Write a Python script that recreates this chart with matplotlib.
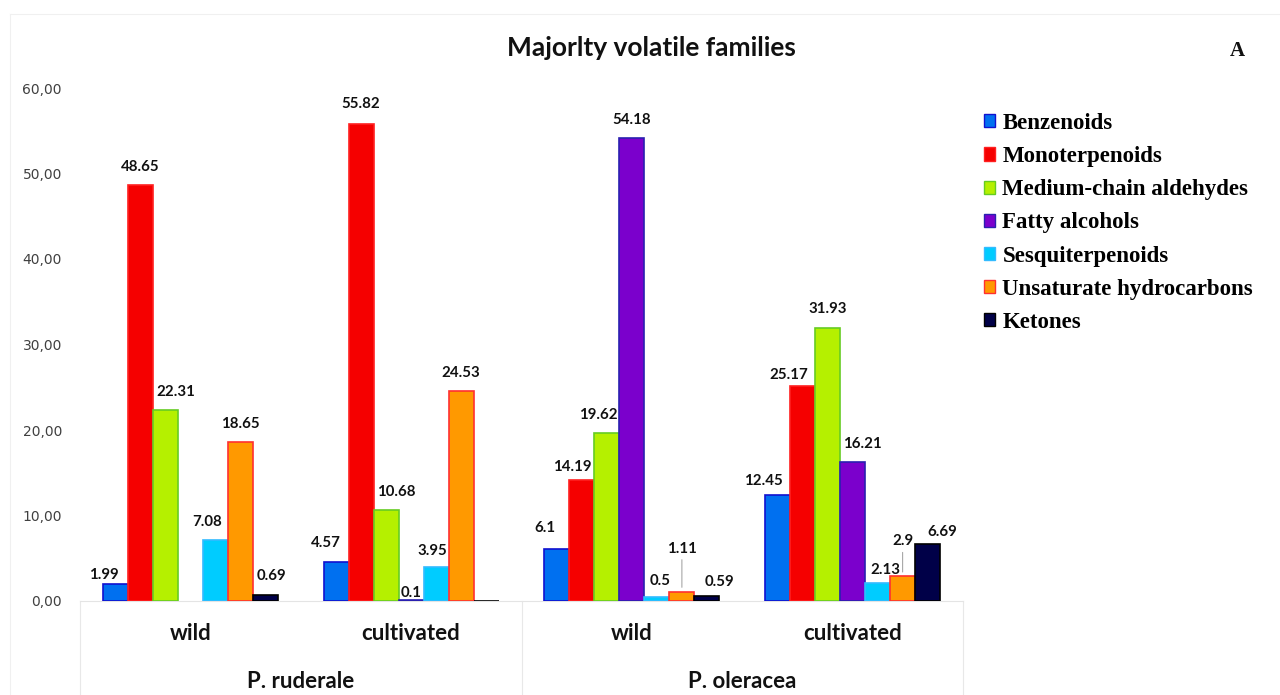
import numpy as np
import matplotlib
matplotlib.use("Agg")
import matplotlib.pyplot as plt
from matplotlib.patches import Patch
from matplotlib.lines import Line2D
from matplotlib.transforms import blended_transform_factory

# ---- data -------------------------------------------------------------
species = ["P. ruderale", "P. oleracea"]
conditions = ["wild", "cultivated", "wild", "cultivated"]
families = ["Benzenoids", "Monoterpenoids", "Medium-chain aldehydes",
            "Fatty alcohols", "Sesquiterpenoids", "Unsaturate hydrocarbons",
            "Ketones"]

benzenoids = [1.99, 4.57, 6.1, 12.45]
monoterpenoids = [48.65, 55.82, 14.19, 25.17]
aldehydes = [22.31, 10.68, 19.62, 31.93]
fatty_alcohols = [np.nan, 0.1, 54.18, 16.21]
sesquiterpenoids = [7.08, 3.95, 0.5, 2.13]
hydrocarbons = [18.65, 24.53, 1.11, 2.9]
ketones = [0.69, 0.0, 0.59, 6.69]

series = [benzenoids, monoterpenoids, aldehydes, fatty_alcohols,
          sesquiterpenoids, hydrocarbons, ketones]

# ---- styles -----------------------------------------------------------
fills = ["#0070f0", "#f50000", "#b5f000", "#7b00cc", "#00ccff", "#ff9900", "#000048"]
edges = ["#1010d0", "#ff2020", "#66cc22", "#2a20b0", "#33bbff", "#ff3030", "#000000"]

# value-label nudges in pixels (dx, dy above bar top); default (0, 18)
label_nudge = {
    (0, 0): (-11, 9), (0, 2): (10, 18), (0, 4): (-8, 18), (0, 6): (6, 19),
    (1, 0): (-10, 19), (1, 1): (0, 20), (1, 2): (10, 18), (1, 3): (0, 7),
    (1, 4): (-4, 16),
    (2, 0): (-12, 21), (2, 1): (-10, 13), (2, 2): (-9, 18), (2, 4): (3, 16),
    (2, 5): (0, 43), (2, 6): (13, 14),
    (3, 0): (-14, 14), (3, 1): (-14, 11), (3, 2): (0, 19), (3, 3): (10, 18),
    (3, 4): (8, 13), (3, 5): (0, 35), (3, 6): (15, 12),
}
leader_labels = {(2, 5), (3, 5)}

W, H = 1280, 695
fig = plt.figure(figsize=(W / 100, H / 100), dpi=100)
fig.patch.set_facecolor("white")

ax_left, ax_right, ax_top, ax_bottom = 80, 963, 88, 601
ax = fig.add_axes([ax_left / W, 1 - ax_bottom / H,
                   (ax_right - ax_left) / W, (ax_bottom - ax_top) / H])

x = np.arange(len(conditions))
bw = 0.1133
n = len(series)
PX = 0.72  # points per pixel at 100 dpi

for i, (vals, fc, ec) in enumerate(zip(series, fills, edges)):
    xs = x + (i - (n - 1) / 2) * bw
    ax.bar(xs, vals, width=bw, color=fc, edgecolor=ec, linewidth=1.2, zorder=3)
    for g, (xv, v) in enumerate(zip(xs, vals)):
        if np.isnan(v) or v <= 0:
            continue
        dx, dy = label_nudge.get((g, i), (0, 18))
        kw = {}
        if (g, i) in leader_labels:
            kw["arrowprops"] = dict(arrowstyle="-", color="#9a9a9a", lw=0.7,
                                    shrinkA=1, shrinkB=3)
        ax.annotate(f"{v:g}", xy=(xv, v), xytext=(dx * PX, dy * PX),
                    textcoords="offset points", ha="center", va="center",
                    fontsize=10.8, fontweight="bold", family="Lato",
                    color="#111111", zorder=5, **kw)

ax.set_xlim(-0.5, 3.5)
ax.set_ylim(0, 60)
ax.set_yticks(np.arange(0, 61, 10))
ax.set_yticklabels([f"{t:.2f}".replace(".", ",") for t in np.arange(0, 61, 10)],
                   fontsize=10, color="#404040", family="DejaVu Sans")
ax.tick_params(axis="y", length=0, pad=13)
ax.set_xticks([])
for s in ["left", "right", "top"]:
    ax.spines[s].set_visible(False)
ax.spines["bottom"].set_color("#e4e4e4")
ax.spines["bottom"].set_linewidth(0.8)

# category axis: condition and species rows
trans = blended_transform_factory(ax.transData, fig.transFigure)
for xv, c in zip(x, conditions):
    ax.text(xv, 1 - 633 / H, c, transform=trans, ha="center", va="center",
            fontsize=16, fontweight="bold", family="Lato", color="#111111")
for k, sp in enumerate(species):
    ax.text(2 * k + 0.5, 1 - 681 / H, sp, transform=trans, ha="center",
            va="center", fontsize=16, fontweight="bold", family="Lato",
            color="#111111")
for xv in [-0.5, 1.5, 3.5]:
    ax.add_line(Line2D([xv, xv], [1 - ax_bottom / H, 0], transform=trans,
                       color="#e8e8e8", lw=0.8, clip_on=False))

# chart frame
fig.add_artist(Line2D([10 / W, 1], [1 - 14 / H, 1 - 14 / H],
                      color="#f0f0f0", lw=0.8))
fig.add_artist(Line2D([10 / W, 10 / W], [0, 1 - 14 / H],
                      color="#f0f0f0", lw=0.8))

fig.text(651 / W, 1 - 48 / H, "Majorlty volatile families", ha="center",
         va="center", fontsize=19, fontweight="bold", family="Lato",
         color="#111111")
fig.text(1237 / W, 1 - 51 / H, "A", ha="center", va="center", fontsize=15,
         fontweight="bold", family="Liberation Serif", color="#111111")

handles = [Patch(facecolor=fc, edgecolor=ec, linewidth=1.0)
           for fc, ec in zip(fills, edges)]
fig.legend(handles, families, loc="upper left",
           bbox_to_anchor=(984 / W, 1 - 113 / H), frameon=False,
           prop=dict(family="Liberation Serif", weight="bold", size=16.5),
           handlelength=0.5, handleheight=0.5, handletextpad=0.3,
           labelspacing=0.53, borderpad=0, borderaxespad=0)

fig.savefig("out.png", dpi=100, facecolor="white")
